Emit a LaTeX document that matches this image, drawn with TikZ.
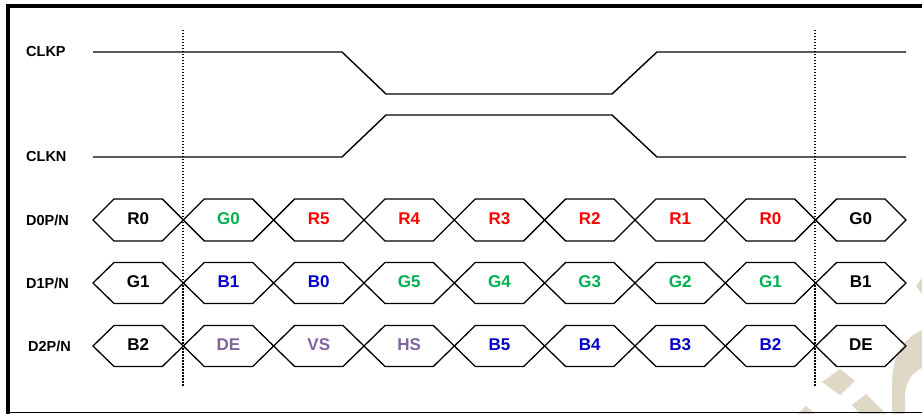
\documentclass[tikz,border=0pt]{standalone}
\usepackage{fontspec}
\setmainfont{Liberation Sans}
\definecolor{cred}{RGB}{255,0,0}
\definecolor{cgreen}{RGB}{0,176,80}
\definecolor{cblue}{RGB}{0,0,204}
\definecolor{cpurple}{RGB}{128,100,162}
\definecolor{wmark}{RGB}{224,216,198}
\tikzset{
  wave/.style={line width=1.4pt, line join=miter},
  hexline/.style={line width=1.3pt, line join=miter},
  dotline/.style={line width=1.6pt, dash pattern=on 1.5pt off 1.5pt},
  siglabel/.style={anchor=west, inner sep=0pt, font=\bfseries\fontsize{14.5}{16}\selectfont},
  hexlabel/.style={inner sep=0pt, font=\bfseries\fontsize{17}{19}\selectfont},
}
\newcommand{\hexrow}[3]{% #1 = centre y, #2 = half height, #3 = list of label/colour
  \foreach \lab/\col [count=\i from 0] in {#3} {
    \pgfmathsetmacro{\xa}{93+90.33*\i}
    \pgfmathsetmacro{\xb}{93+90.33*(\i+1)}
    \draw[hexline] (\xa,#1) -- (\xa+21,#1-#2) -- (\xb-21,#1-#2) -- (\xb,#1)
       -- (\xb-21,#1+#2) -- (\xa+21,#1+#2) -- cycle;
    \node[hexlabel, text=\col] (h#1x\i) at ({(\xa+\xb)/2},#1-1) {\lab};
  }
}
\begin{document}
\begin{tikzpicture}[x=1pt,y=-1pt]
\useasboundingbox (0,0) rectangle (922,414);
% watermark
\fill[wmark] (822,382) -- (840,369) -- (855,381) -- (840,395) -- cycle;
\fill[wmark] (852,405) -- (866,394) -- (886,414) -- (860,414) -- cycle;
\fill[wmark] (797,414) -- (806,406) -- (815,414) -- cycle;
\fill[wmark] (922,330) .. controls (900,340) and (892,360) .. (892,385) -- (892,414)
   -- (905,414) -- (905,395) .. controls (906,382) and (912,372) .. (922,368) -- cycle;
\fill[wmark] (922,278) -- (916,286) -- (922,294) -- cycle;
% frame
\draw[line width=4pt] (8,414) -- (8,6) -- (930,6);
\draw[line width=1.5pt] (6,412.5) -- (930,412.5);
% labels
\node[siglabel] (clkp) at (26,52) {CLKP};
\node[siglabel] (clkn) at (26,157) {CLKN};
\node[siglabel] (d0) at (26,220) {D0P/N};
\node[siglabel] (d1) at (26,283) {D1P/N};
\node[siglabel] (d2) at (28,346) {D2P/N};
% clocks
\draw[wave] (93,52) -- (342,52) -- (386,94) -- (612,94) -- (657,52) -- (906,52);
\draw[wave] (93,157) -- (342,157) -- (386,115) -- (612,115) -- (657,157) -- (906,157);
% data rows
\hexrow{220}{21}{R0/black,G0/cgreen,R5/cred,R4/cred,R3/cred,R2/cred,R1/cred,R0/cred,G0/black}
\hexrow{283}{20.5}{G1/black,B1/cblue,B0/cblue,G5/cgreen,G4/cgreen,G3/cgreen,G2/cgreen,G1/cgreen,B1/black}
\hexrow{346}{20.5}{B2/black,DE/cpurple,VS/cpurple,HS/cpurple,B5/cblue,B4/cblue,B3/cblue,B2/cblue,DE/black}
% dotted markers
\draw[dotline] (183,30) -- (183,386);
\draw[dotline] (815,30) -- (815,386);
\end{tikzpicture}
\end{document}
